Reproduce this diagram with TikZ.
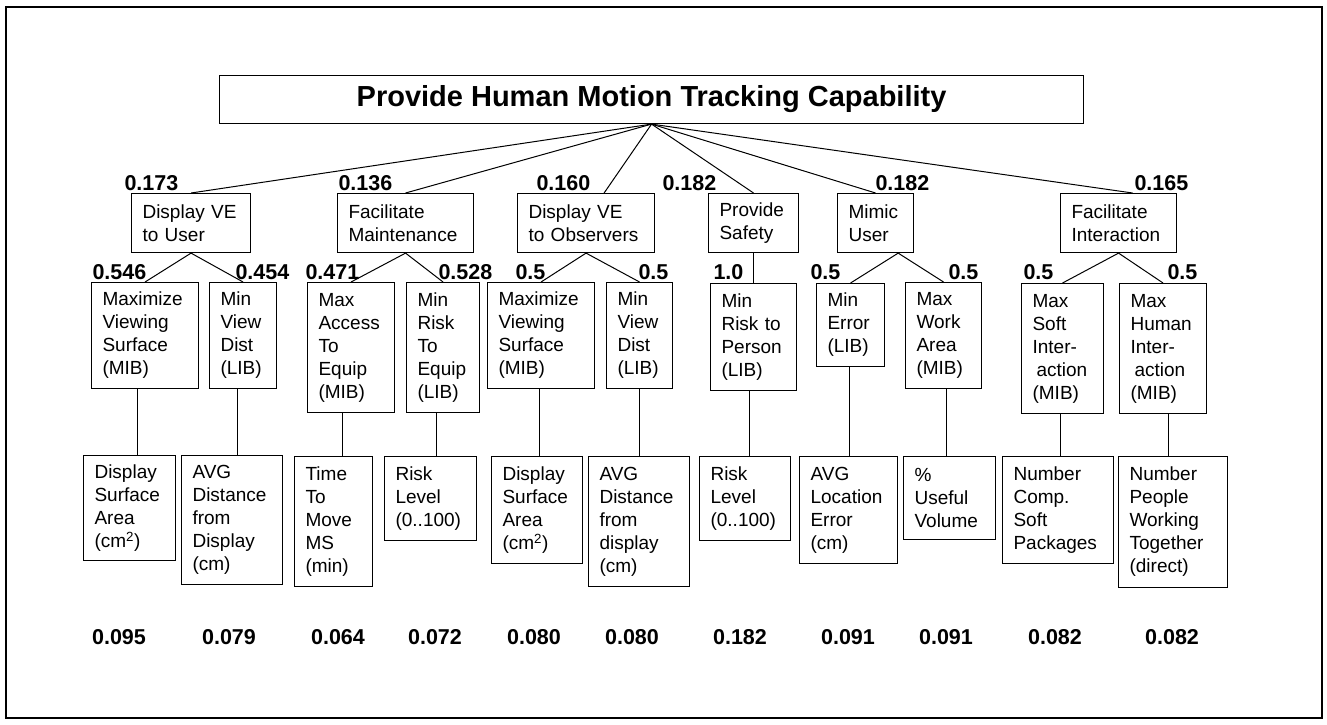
\documentclass[tikz,border=0pt]{standalone}
\usepackage{fontspec}
\setmainfont{Liberation Sans}
\usetikzlibrary{calc}

\begin{document}
\begin{tikzpicture}[x=1pt,y=-1pt,line width=1pt,
  box/.style={draw,line width=1.1pt,anchor=north west,inner xsep=11pt,inner ysep=0pt,align=left,font=\fontsize{19}{23}\selectfont},
  wt/.style={font=\bfseries\fontsize{21.5}{24}\selectfont,inner sep=0pt,anchor=base west},
  tot/.style={wt,anchor=base}]

\useasboundingbox (0,0) rectangle (1327,724);
\draw[line width=2pt](6,7) rectangle (1322,718);

\node[draw,line width=1.1pt,minimum width=864,minimum height=48,anchor=north west,font=\bfseries\fontsize{29}{32}\selectfont] (goal) at (219,75) {Provide Human Motion Tracking Capability};

% objectives
\node[box,minimum height=59,text width=97] (vuser) at (131,193) {Display VE\\to User};
\node[box,minimum height=59,text width=114] (maint) at (337,193) {Facilitate\\Maintenance};
\node[box,minimum height=59,text width=115] (vobs) at (517,193) {Display VE\\to Observers};
\node[box,minimum height=59,text width=68] (safety) at (708,193) {Provide\\Safety};
\node[box,minimum height=59,text width=54] (mimic) at (837,193) {Mimic\\User};
\node[box,minimum height=59,text width=94] (inter) at (1060,193) {Facilitate\\Interaction};

% sub-objectives
\node[box,minimum height=106,text width=85] (msurfA) at (91,282) {Maximize\\Viewing\\Surface\\(MIB)};
\node[box,minimum height=106,text width=45] (vdistA) at (209,282) {Min\\View\\Dist\\(LIB)};
\node[box,minimum height=130,text width=65] (access) at (307,282) {Max\\Access\\To\\Equip\\(MIB)};
\node[box,minimum height=130,text width=51] (riskeq) at (406,282) {Min\\Risk\\To\\Equip\\(LIB)};
\node[box,minimum height=106,text width=85] (msurfB) at (487,282) {Maximize\\Viewing\\Surface\\(MIB)};
\node[box,minimum height=106,text width=44] (vdistB) at (606,282) {Min\\View\\Dist\\(LIB)};
\node[box,minimum height=107,text width=64] (riskper) at (710,283) {Min\\Risk to\\Person\\(LIB)};
\node[box,minimum height=83,text width=46] (minerr) at (816,283) {Min\\Error\\(LIB)};
\node[box,minimum height=106,text width=54] (workar) at (905,282) {Max\\Work\\Area\\(MIB)};
\node[box,minimum height=130,text width=60] (msoft) at (1021,283) {Max\\Soft\\Inter-\\\hspace*{4pt}action\\(MIB)};
\node[box,minimum height=130,text width=65] (mhuman) at (1119,283) {Max\\Human\\Inter-\\\hspace*{4pt}action\\(MIB)};

% measures
\node[box,minimum height=105,text width=70] (dsurfA) at (83,455) {Display\\Surface\\Area\\(cm\textsuperscript{2})};
\node[box,minimum height=129,text width=79] (adistA) at (181,455) {AVG\\Distance\\from\\Display\\(cm)};
\node[box,minimum height=130,text width=56] (tmove) at (294,456) {Time\\To\\Move\\MS\\(min)};
\node[box,minimum height=84,text width=70] (risklvA) at (384,456) {Risk\\Level\\(0..100)};
\node[box,minimum height=107,text width=69] (dsurfB) at (491,456) {Display\\Surface\\Area\\(cm\textsuperscript{2})};
\node[box,minimum height=130,text width=79] (adistB) at (588,456) {AVG\\Distance\\from\\display\\(cm)};
\node[box,minimum height=84,text width=69] (risklvB) at (699,456) {Risk\\Level\\(0..100)};
\node[box,minimum height=107,text width=76] (locerr) at (799,456) {AVG\\Location\\Error\\(cm)};
\node[box,minimum height=83,text width=70] (useful) at (903,456) {\%\\Useful\\Volume};
\node[box,minimum height=107,text width=89] (ncomp) at (1002,456) {Number\\Comp.\\Soft\\Packages};
\node[box,minimum height=131,text width=87] (npeople) at (1118,456) {Number\\People\\Working\\Together\\(direct)};

% connectors
\foreach \b in {vuser.north,maint.north,vobs.59,safety.north,mimic.north,inter.65}
  \draw (goal.south) -- (\b);
\foreach \a/\b in {vuser/msurfA,vuser/vdistA,maint/access,maint/riskeq,vobs/msurfB,vobs/vdistB,
    safety/riskper,inter/msoft,inter/mhuman}
  \draw (\a.south) -- (\b.north);
\draw (mimic.-53) -- (minerr.north);
\draw (mimic.-53) -- (workar.north);
\foreach \m/\d in {msurfA/dsurfA,vdistA/adistA,access/tmove,riskeq/risklvA,msurfB/dsurfB,vdistB/adistB,
    riskper/risklvB,minerr/locerr,workar/useful,msoft/ncomp,mhuman/npeople}{
  \coordinate (mid) at ($(\m.south)!.5!(\d.north)$);
  \draw (mid |- \m.south) -- (mid |- \d.north);
}

% weights
\foreach \x/\v [count=\i] in {124/0.173,338/0.136,536/0.160,662/0.182,875/0.182,1134/0.165}
  \node[wt] (wa\i) at (\x,190) {\v};
\foreach \x/\v [count=\i] in {92/0.546,235/0.454,305/0.471,438/0.528,515/0.5,638/0.5,713/1.0,810/0.5,948/0.5,1023/0.5,1167/0.5}
  \node[wt] (wb\i) at (\x,279) {\v};
\foreach \x/\v [count=\i] in {119/0.095,229/0.079,338/0.064,435/0.072,534/0.080,632/0.080,740/0.182,848/0.091,946/0.091,1055/0.082,1172/0.082}
  \node[tot] (tot\i) at (\x,644) {\v};

\end{tikzpicture}
\end{document}
